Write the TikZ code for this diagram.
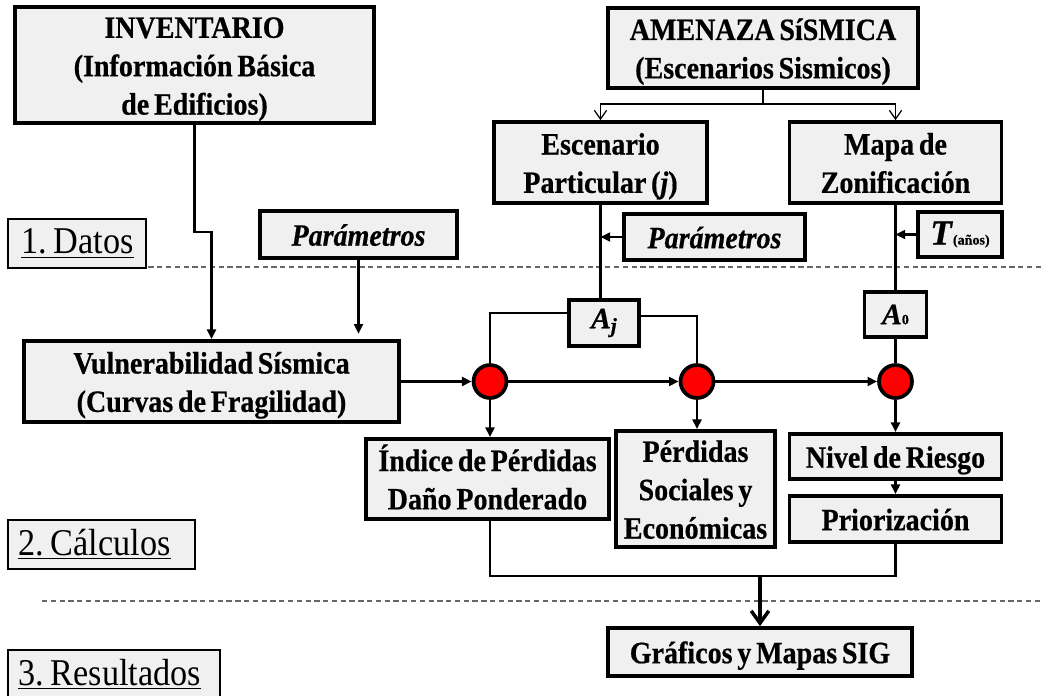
\documentclass[tikz,border=0pt]{standalone}
\usepackage{fontspec}
\usepackage{graphicx}
\setmainfont{Liberation Serif}[BoldFeatures={FakeBold=0.6},BoldItalicFeatures={FakeBold=0.6}]
\usetikzlibrary{arrows.meta,calc}
\newcommand\myboxfont{\fontsize{16.8}{20.8}\selectfont\bfseries\spaceskip=0.17em plus 0.05em\relax}
\newcommand\mylblfont{\fontsize{20.5}{24}\selectfont\spaceskip=0.12em\relax}
\newcommand\tx[1]{\raisebox{-2pt}[\height][\depth]{\scalebox{0.95}[1.05]{\begin{tabular}{@{}c@{}}#1\end{tabular}}}}
\begin{document}
\begin{tikzpicture}[x=0.02cm,y=-0.02cm,
  sz/.style 2 args={minimum width=#1*0.02cm, minimum height=#2*0.02cm},
  bx/.style={draw, line width=2.1pt, fill=black!6, align=center, inner sep=0pt,
    font=\myboxfont},
  lbl/.style={draw, line width=0.7pt, fill=black!6, inner sep=0pt},
  lbltext/.style={anchor=west, inner sep=0pt, font=\mylblfont},
  dot/.style={circle, draw, line width=2.1pt, fill=red, minimum size=0.66cm, inner sep=0pt},
  ln/.style={line width=1.4pt},
  arr/.style={line width=1.4pt, -{Triangle[length=5.5pt,width=5pt]}},
  tarr/.style={line width=0.7pt, -{Straight Barb[length=5pt,width=7pt]}},
  barr/.style={line width=2pt, -{Straight Barb[length=7pt,width=10pt]}},
  sep/.style={line width=0.6pt, black!60, dash pattern=on 3pt off 2pt}
]
\useasboundingbox (0,0) rectangle (1042,696);
% separators
\draw[sep] (43,267) -- (1042,267);
\draw[sep] (42,601) -- (1042,601);
% section labels
\node[lbl, sz={138}{49}] (datos) at (77,243.5) {};
\node[lbltext] (datost) at (21,243.5) {\scalebox{0.95}[1.05]{\underline{1. Datos}}};
\node[lbl, sz={187}{49}] (calc) at (101.5,544.5) {};
\node[lbltext] (calct) at (18,544.5) {\scalebox{0.95}[1.05]{\underline{2. Cálculos}}};
\node[lbl, sz={212}{52}] (res) at (114,676) {};
\node[lbltext] (rest) at (18,674) {\scalebox{0.95}[1.05]{\underline{3. Resultados}}};
% boxes
\node[bx, sz={359}{116}] (inv) at (194.5,65) {\tx{INVENTARIO\\(Información Básica\\de Edificios)}};
\node[bx, sz={310}{80}] (amen) at (763,48) {\tx{AMENAZA SíSMICA\\(Escenarios Sismicos)}};
\node[bx, sz={213}{81}] (esc) at (600.5,162.5) {\tx{Escenario\\Particular (\textit{j})}};
\node[bx, sz={212}{81}] (mapa) at (895.5,162.5) {\tx{Mapa de\\Zonificación}};
\node[bx, sz={181}{46}] (par2) at (714.5,237) {\tx{\itshape Parámetros}};
\node[bx, sz={84}{45}] (T) at (960,234.5) {{\fontsize{20}{20}\selectfont\textit{T}}{\fontsize{8}{10}\selectfont(años)}};
\node[bx, sz={197}{47}] (par1) at (358.5,234.5) {\tx{\itshape Parámetros}};
\node[bx, sz={375}{81}] (vul) at (211.5,381.5) {\tx{Vulnerabilidad Sísmica\\(Curvas de Fragilidad)}};
\node[bx, sz={70}{46}] (aj) at (604,323) {\textit{A}\raisebox{-0.15em}{\fontsize{12}{12}\selectfont\textit{j}}};
\node[bx, sz={62}{45}] (a0) at (895.5,314.5) {\textit{A}{\fontsize{8}{10}\selectfont 0}};
\node[dot] (c1) at (490,381.5) {};
\node[dot] (c2) at (697,381.5) {};
\node[dot] (c3) at (895.5,381.5) {};
\node[bx, sz={243}{80}] (ind) at (487.5,479) {\tx{Índice de Pérdidas\\Daño Ponderado}};
\node[bx, sz={159}{116}] (perd) at (695.5,489) {\tx{Pérdidas\\Sociales y\\Económicas}};
\node[bx, sz={212}{45}] (niv) at (895.5,456.5) {\tx{Nivel de Riesgo}};
\node[bx, sz={212}{46}] (pri) at (895.5,519) {\tx{Priorización}};
\node[bx, sz={304}{48}] (graf) at (760,652) {\tx{Gráficos y Mapas SIG}};
% connectors
\coordinate (j1) at (763,104);
\draw[line width=0.7pt] (amen.south) -- (j1);
\draw[tarr] (j1) -| (esc.north);
\draw[tarr] (j1) -| (mapa.north);
\draw[ln] (esc.south) -- (esc.south |- aj.north);
\draw[arr] (par2.west) -- (esc.south |- par2.west);
\draw[ln] (mapa.south) -- (a0.north);
\draw[arr] (T.west) -- (mapa.south |- T.west);
\draw[arr] (inv.south) -- ++(0,107) -| (vul.north);
\draw[arr] (par1.south) -- ++(0,74);
\draw[arr] (vul.east) -- (c1.west);
\draw[ln] ([yshift=0.2cm]aj.west) -| (c1.north);
\draw[ln] ([yshift=0.14cm]aj.east) -| (c2.north);
\draw[arr] (c1.east) -- (c2.west);
\draw[arr] (c2.east) -- (c3.west);
\draw[ln] (a0.south) -- (c3.north);
\draw[arr] (c1.south) -- (c1.south |- ind.north);
\draw[arr] (c2.south) -- (c2.south |- perd.north);
\draw[arr] (c3.south) -- (niv.north);
\draw[arr] (niv.south) -- (pri.north);
\coordinate (m) at (graf.north |- 0,576);
\draw[ln] (ind.south -| c1) |- (m);
\draw[ln] (perd.south -| c2) -- (perd.south -| c2 |- m);
\draw[ln] (pri.south) |- (m);
\draw[barr] (m) -- (graf.north);
\end{tikzpicture}
\end{document}
